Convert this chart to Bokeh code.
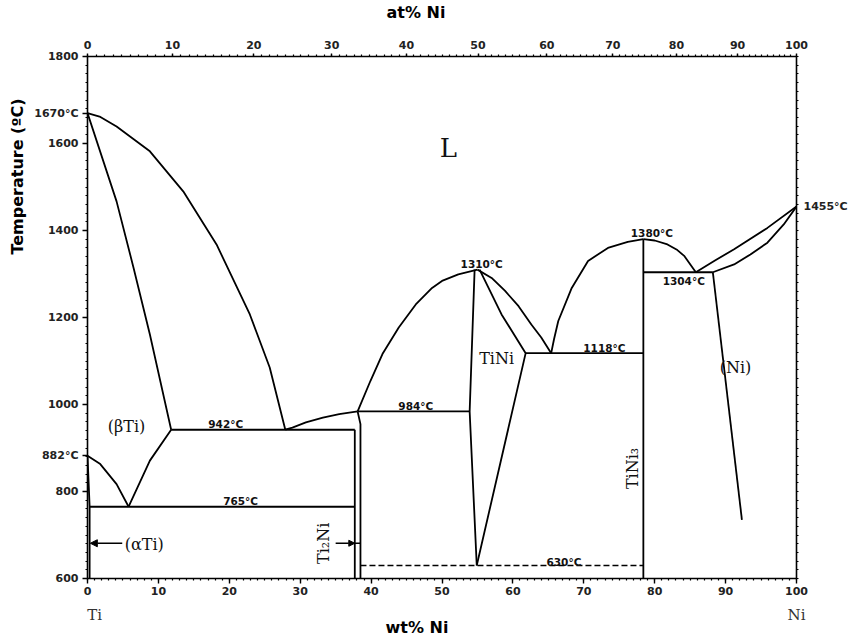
import numpy as np
from bokeh.plotting import figure
from bokeh.models import (Range1d, LinearAxis, FixedTicker, Label, Arrow, Title,
                          NormalHead, CustomJSTickFormatter)
from bokeh.embed import file_html
from bokeh.resources import INLINE

# ---------------- data (wt% Ni, temperature in °C) ----------------
ti_liquidus_wt = [0, 1.7, 4.1, 8.8, 13.5, 18.2, 22.9, 25.7, 27.9]
ti_liquidus_T = [1670, 1662, 1639, 1582, 1490, 1368, 1207, 1085, 942]

ti_solidus_wt = [0, 4.1, 6.5, 8.8, 11.8]
ti_solidus_T = [1670, 1467, 1314, 1161, 942]

beta_transus_wt = [0, 1.8, 4.1, 5.8]
beta_transus_T = [882, 863, 817, 765]

beta_solvus_wt = [5.8, 8.8, 11.8]
beta_solvus_T = [765, 871, 942]

alpha_solvus_wt = [0, 0.3, 0.3]
alpha_solvus_T = [882, 765, 600]

ti2ni_liquidus_wt = [27.9, 28.9, 30.8, 33.2, 35.5, 38.1]
ti2ni_liquidus_T = [942, 947, 959, 970, 978, 984]

ti2ni_left_wt = [37.7, 37.7]
ti2ni_left_T = [600, 942]
ti2ni_right_wt = [38.5, 38.5, 38.1]
ti2ni_right_T = [600, 955, 984]

tini_liq_left_wt = [38.1, 39.9, 41.6, 43.9, 46.3, 48.6, 50.0, 52.3, 55.0]
tini_liq_left_T = [984, 1054, 1116, 1177, 1230, 1268, 1284, 1299, 1310]

tini_liq_right_wt = [55.0, 57.0, 58.9, 60.8, 62.6, 64.0, 65.4]
tini_liq_right_T = [1310, 1291, 1261, 1226, 1184, 1154, 1118]

tini_left_wt = [54.6, 53.9, 54.9]
tini_left_T = [1310, 984, 630]
tini_right_wt = [55.3, 58.4, 61.8, 54.9]
tini_right_T = [1310, 1207, 1118, 630]

tini3_liq_left_wt = [65.4, 65.8, 66.4, 68.3, 70.6, 73.4, 76.2, 78.4]
tini3_liq_left_T = [1118, 1150, 1192, 1268, 1330, 1360, 1374, 1380]

tini3_liq_right_wt = [78.4, 80.0, 81.8, 83.2, 84.2, 85.8]
tini3_liq_right_T = [1380, 1377, 1368, 1355, 1341, 1304]

tini3_wt = [78.4, 78.4]
tini3_T = [600, 1380]

ni_liquidus_wt = [85.8, 88.5, 91.2, 95.9, 100]
ni_liquidus_T = [1304, 1331, 1357, 1406, 1455]

ni_solidus_wt = [88.2, 91.2, 93.5, 95.9, 98.2, 100]
ni_solidus_T = [1304, 1322, 1345, 1372, 1414, 1455]

ni_solvus_wt = [88.2, 92.3]
ni_solvus_T = [1304, 735]

# invariant isotherms
iso_T = [942, 765, 984, 1118, 1304]
iso_wt_start = [11.8, 0.3, 38.1, 61.8, 78.4]
iso_wt_end = [37.7, 37.7, 53.9, 78.4, 88.2]

dashed_T = [630, 630]
dashed_wt = [38.5, 78.4]

wt_ticks = [0, 10, 20, 30, 40, 50, 60, 70, 80, 90, 100]
at_ticks = [0, 10, 20, 30, 40, 50, 60, 70, 80, 90, 100]
T_ticks = [600, 800, 882, 1000, 1200, 1400, 1600, 1670, 1800]
T_right_ticks = [1455]
end_ticks = [1.0, 100]

M_TI, M_NI = 47.867, 58.693


def at_to_wt(a):
    return 100.0 * a * M_NI / (a * M_NI + (100.0 - a) * M_TI)


# ---------------- figure ----------------
p = figure(width=850, height=637, x_range=Range1d(0, 100), y_range=Range1d(600, 1800),
           output_backend="svg", toolbar_location=None, title="at% Ni",
           min_border_left=84, min_border_right=54, min_border_top=55, min_border_bottom=59)
p.xgrid.visible = False
p.ygrid.visible = False
p.outline_line_color = None
p.background_fill_color = "white"
p.border_fill_color = "white"

SANS = "DejaVu Sans"
SERIF = "DejaVu Serif"

p.title.align = "left"
p.title.offset = 299
p.title.text_font = SANS
p.title.text_font_size = "16px"
p.title.text_font_style = "bold"
p.title.text_color = "black"
try:
    p.title.padding = dict(left=0, right=0, top=0, bottom=16)
    p.title.standoff = 0
except Exception:
    p.title.standoff = 14


def style_axis(ax):
    ax.axis_line_width = 1.6
    ax.axis_line_color = "black"
    ax.major_tick_out = 5
    ax.major_tick_in = 0
    ax.minor_tick_out = 2
    ax.minor_tick_in = 0
    ax.major_tick_line_width = 1.4
    ax.minor_tick_line_width = 1.2
    ax.major_label_text_font = SANS
    ax.major_label_text_font_style = "bold"
    ax.major_label_text_font_size = "11px"
    ax.major_label_text_color = "#222222"


bottom = p.below[0]
bottom.ticker = FixedTicker(ticks=wt_ticks, minor_ticks=list(range(0, 101)))
style_axis(bottom)
bottom.major_label_standoff = 3

# Ti / Ni end-member names under the composition axis
ends = LinearAxis(ticker=FixedTicker(ticks=end_ticks, minor_ticks=[]),
                  formatter=CustomJSTickFormatter(code='return tick < 50 ? "Ti" : "Ni";'))
ends.axis_line_color = None
ends.major_tick_line_color = None
ends.minor_tick_line_color = None
ends.major_tick_out = 0
ends.major_tick_in = 0
ends.minor_tick_out = 0
ends.minor_tick_in = 0
ends.major_label_text_font = SERIF
ends.major_label_text_font_size = "15px"
ends.major_label_text_color = "#333333"
p.add_layout(ends, "below")

wt_title = Title(text="wt% Ni", align="left", offset=298, vertical_align="top",
                 text_font=SANS, text_font_size="16px", text_font_style="bold",
                 text_color="black")
try:
    wt_title.standoff = -18
    ends.major_label_standoff = 8
except Exception:
    wt_title.standoff = 0
    ends.major_label_standoff = 0
p.add_layout(wt_title, "below")

left = p.left[0]
left.ticker = FixedTicker(ticks=T_ticks, minor_ticks=list(range(600, 1801, 20)))
left.formatter = CustomJSTickFormatter(code="""
if (tick == 882 || tick == 1670) return tick + "°C";
return String(tick);
""")
style_axis(left)
left.major_label_standoff = 4

p.add_layout(Title(text="Temperature (ºC)", align="right", offset=42, standoff=10,
                   text_font=SANS, text_font_size="16px", text_font_style="bold",
                   text_color="black"), "left")

top = LinearAxis(ticker=FixedTicker(ticks=[at_to_wt(a) for a in at_ticks],
                                    minor_ticks=[at_to_wt(a) for a in range(0, 101)]))
top.formatter = CustomJSTickFormatter(code="""
const a = tick / 58.693, b = (100 - tick) / 47.867;
return String(Math.round(100 * a / (a + b)));
""")
style_axis(top)
top.major_tick_out = 3
top.major_label_standoff = 5
p.add_layout(top, "above")

right = LinearAxis(ticker=FixedTicker(ticks=T_right_ticks, minor_ticks=list(range(600, 1801, 20))),
                   formatter=CustomJSTickFormatter(code='return tick + "°C";'))
style_axis(right)
right.major_tick_out = 0
right.major_label_standoff = 5
p.add_layout(right, "right")

LW = 1.8
curves = [
    (ti_liquidus_wt, ti_liquidus_T), (ti_solidus_wt, ti_solidus_T),
    (beta_transus_wt, beta_transus_T), (beta_solvus_wt, beta_solvus_T),
    (alpha_solvus_wt, alpha_solvus_T), (ti2ni_liquidus_wt, ti2ni_liquidus_T),
    (ti2ni_left_wt, ti2ni_left_T), (ti2ni_right_wt, ti2ni_right_T),
    (tini_liq_left_wt, tini_liq_left_T), (tini_liq_right_wt, tini_liq_right_T),
    (tini_left_wt, tini_left_T), (tini_right_wt, tini_right_T),
    (tini3_liq_left_wt, tini3_liq_left_T), (tini3_liq_right_wt, tini3_liq_right_T),
    (tini3_wt, tini3_T), (ni_liquidus_wt, ni_liquidus_T),
    (ni_solidus_wt, ni_solidus_T), (ni_solvus_wt, ni_solvus_T),
]
for xs, ys in curves:
    p.line(xs, ys, line_color="black", line_width=LW, line_join="round")

p.segment(x0=iso_wt_start, y0=iso_T, x1=iso_wt_end, y1=iso_T,
          line_color="black", line_width=LW)
p.line(dashed_wt, dashed_T, line_color="black", line_width=1.5, line_dash="6 3")

# arrows for the narrow single-phase fields
p.add_layout(Arrow(end=NormalHead(size=7, fill_color="black", line_color="black"),
                   x_start=4.9, y_start=681, x_end=0.4, y_end=681,
                   line_color="black", line_width=1.4))
p.add_layout(Arrow(end=NormalHead(size=6, fill_color="black", line_color="black"),
                   x_start=35.0, y_start=681, x_end=37.7, y_end=681,
                   line_color="black", line_width=1.4))
p.line([37.7, 38.5], [681, 681], line_color="black", line_width=1.4)


def add_label(x, y, text, font=SANS, size="10.5px", style="bold",
              align="center", angle=0.0, color="#111111"):
    p.add_layout(Label(x=x, y=y, text=text, text_font=font, text_font_size=size,
                       text_font_style=style, text_align=align, text_baseline="middle",
                       angle=angle, text_color=color))


# temperature annotations inside the diagram
add_label(55.6, 1323, "1310°C")
add_label(79.6, 1394, "1380°C")
add_label(84.1, 1284, "1304°C")
add_label(72.9, 1130, "1118°C")
add_label(46.3, 997, "984°C")
add_label(19.5, 955, "942°C")
add_label(21.6, 779, "765°C")
add_label(67.2, 639, "630°C")

# phase labels
add_label(50.9, 1590, "L", font=SERIF, size="26px", style="normal")
add_label(5.5, 949, "(βTi)", font=SERIF, size="16px", style="normal")
add_label(57.7, 1106, "TiNi", font=SERIF, size="16px", style="normal")
add_label(91.4, 1084, "(Ni)", font=SERIF, size="16px", style="normal")
add_label(8.0, 679, "(αTi)", font=SERIF, size="16px", style="normal")
add_label(76.9, 853, "TiNi₃", font=SERIF, size="16px", style="normal", angle=np.pi / 2)
add_label(33.3, 681, "Ti₂Ni", font=SERIF, size="16px", style="normal", angle=np.pi / 2)

open("out.html", "w").write(file_html(p, INLINE))
